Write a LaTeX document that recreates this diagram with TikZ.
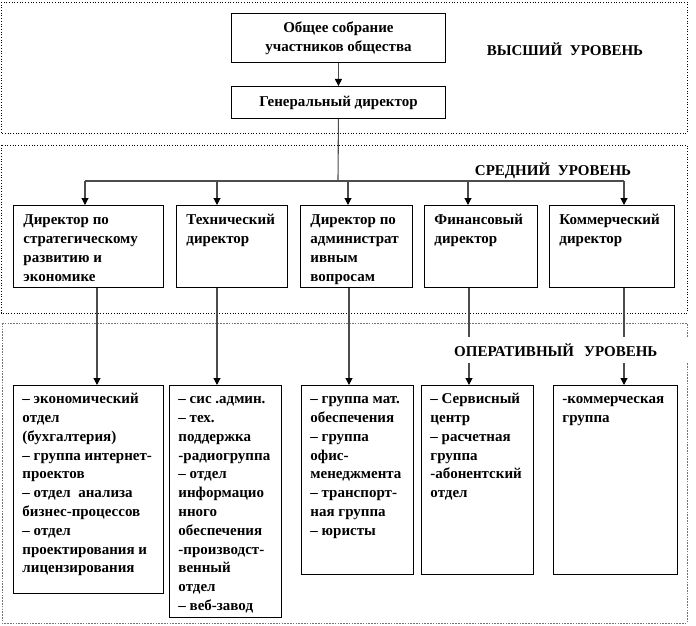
\documentclass[tikz,border=0pt]{standalone}
\usepackage{fontspec}
\setmainfont{Liberation Serif}
\usetikzlibrary{arrows.meta}
\newcommand{\tbx}[3]{\begin{minipage}[c][#2pt][t]{#1pt}#3\end{minipage}}
\newcommand{\lnx}[1]{\mbox{\strut#1}\par}
\tikzset{
  frame/.style={draw=black, dotted, line width=0.7pt},
  frameb/.style={draw=black!55, dash pattern=on 1.6pt off 1.2pt, line width=0.6pt},
  unit/.style={draw=black, line width=0.9pt, inner sep=0pt, anchor=north west,
    font=\bfseries\fontsize{15}{19}\selectfont},
  midunit/.style={unit, inner xsep=10pt, inner ysep=6pt},
  lowunit/.style={unit, inner xsep=9pt, inner ysep=5pt, font=\bfseries\fontsize{15}{18.8}\selectfont},
  conn/.style={draw=black!70, line width=1.1pt},
  arr/.style={conn, -{Triangle[width=7pt,length=7pt,color=black]}},
  lvl/.style={font=\bfseries\fontsize{15}{19}\selectfont, inner sep=0pt},
}
\begin{document}
\begin{tikzpicture}[x=1pt,y=-1pt]
\useasboundingbox (0,0) rectangle (696,626);
% level frames
\draw[frame] (1,2) rectangle (687,133);
\draw[frame] (1,145) rectangle (687,313);
\draw[frameb] (2,323) rectangle (687,623);

% top level
\node[unit, minimum width=214pt, minimum height=49pt, align=center] (gs) at (231,13)
  {Общее собрание\\участников общества};
\node[unit, minimum width=214pt, minimum height=32pt] (gd) at (231,86) {Генеральный директор};
\node[lvl] (lv1) at (565,49) {ВЫСШИЙ~\ УРОВЕНЬ};

% middle level
\node[lvl] (lv2) at (553,171) {СРЕДНИЙ~\ УРОВЕНЬ};
\node[midunit] (m1) at (13,205) {\tbx{130}{70}{\lnx{Директор по}\lnx{стратегическому}\lnx{развитию и}\lnx{экономике}}};
\node[midunit] (m2) at (176,205) {\tbx{91}{70}{\lnx{Технический}\lnx{директор}}};
\node[midunit] (m3) at (300,205) {\tbx{92}{70}{\lnx{Директор по}\lnx{администрат}\lnx{ивным}\lnx{вопросам}}};
\node[midunit] (m4) at (424,205) {\tbx{93}{70}{\lnx{Финансовый}\lnx{директор}}};
\node[midunit] (m5) at (549,205) {\tbx{105}{70}{\lnx{Коммерческий}\lnx{директор}}};

% operative level
\node[lowunit] (o1) at (13,385) {\tbx{132}{198}{\lnx{– экономический}\lnx{отдел}\lnx{(бухгалтерия)}\lnx{– группа интернет-}\lnx{проектов}\lnx{– отдел~\ анализа}\lnx{бизнес-процессов}\lnx{– отдел}\lnx{проектирования и}\lnx{лицензирования}}};
\node[lowunit] (o2) at (169,385) {\tbx{94}{222}{\lnx{– сис .админ.}\lnx{– тех.}\lnx{поддержка}\lnx{-радиогруппа}\lnx{– отдел}\lnx{информацио}\lnx{нного}\lnx{обеспечения}\lnx{-производст-}\lnx{венный}\lnx{отдел}\lnx{– веб-завод}}};
\node[lowunit] (o3) at (301,385) {\tbx{94}{179}{\lnx{– группа мат.}\lnx{обеспечения}\lnx{– группа}\lnx{офис-}\lnx{менеджмента}\lnx{– транспорт-}\lnx{ная группа}\lnx{– юристы}}};
\node[lowunit] (o4) at (421,385) {\tbx{94}{179}{\lnx{– Сервисный}\lnx{центр}\lnx{– расчетная}\lnx{группа}\lnx{-абонентский}\lnx{отдел}}};
\node[lowunit] (o5) at (553,385) {\tbx{106}{179}{\lnx{-коммерческая}\lnx{группа}}};

% connectors
\draw[arr] (gs.south) -- (gd.north);
\coordinate (bus) at (338,181);
\coordinate (b1) at (85,181);
\coordinate (b2) at (217,181);
\coordinate (b3) at (348,181);
\coordinate (b4) at (468,181);
\coordinate (b5) at (624,181);
\draw[conn] (gd.south) -- (bus);
\draw[conn] (b1) -- (b5);
\draw[arr] (b1) -- (b1 |- m1.north);
\draw[arr] (b2) -- (b2 |- m2.north);
\draw[arr] (b3) -- (b3 |- m3.north);
\draw[arr] (b4) -- (b4 |- m4.north);
\draw[arr] (b5) -- (b5 |- m5.north);

\coordinate (c1) at (97,0);
\coordinate (c2) at (217,0);
\coordinate (c3) at (349,0);
\coordinate (c4) at (469,0);
\coordinate (c5) at (624,0);
\draw[arr] (c1 |- m1.south) -- (c1 |- o1.north);
\draw[arr] (c2 |- m2.south) -- (c2 |- o2.north);
\draw[arr] (c3 |- m3.south) -- (c3 |- o3.north);
\draw[arr] (c4 |- m4.south) -- (c4 |- o4.north);
\draw[arr] (c5 |- m5.south) -- (c5 |- o5.north);

\node[lvl, fill=white, anchor=west, minimum height=26pt, text width=244pt, align=left] (lv3) at (448,350)
  {\hspace*{6pt}ОПЕРАТИВНЫЙ~\ УРОВЕНЬ};
\end{tikzpicture}
\end{document}
